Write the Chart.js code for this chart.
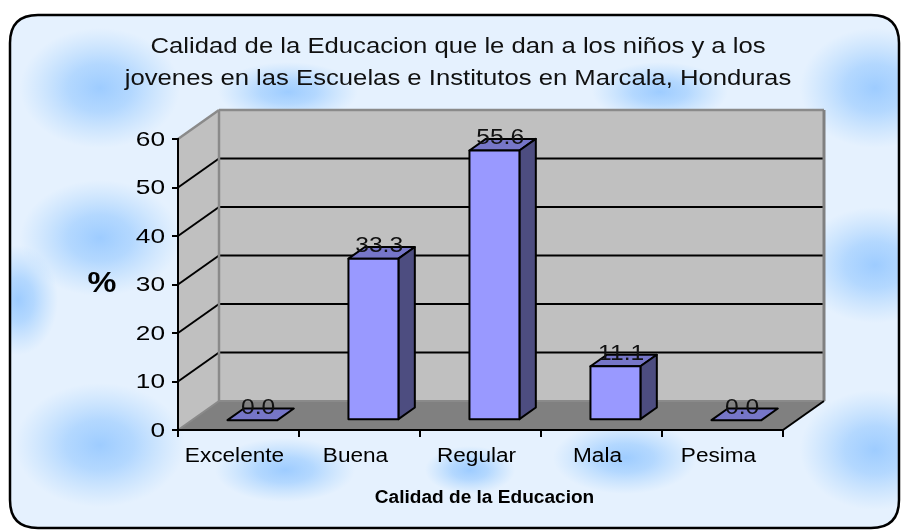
<!DOCTYPE html>
<html>
<head>
<meta charset="utf-8">
<script src="https://cdn.jsdelivr.net/npm/chart.js@4.4.1/dist/chart.umd.min.js"></script>
<style>
  html, body { margin: 0; padding: 0; background: #ffffff; }
  #wrap { position: relative; width: 902px; height: 532px; }
</style>
</head>
<body>
<div id="wrap"><canvas id="grafico" width="902" height="532"></canvas></div>
<script>
// datos del grafico
const categorias = ["Excelente", "Buena", "Regular", "Mala", "Pesima"];
const porcentajes = [0.0, 33.3, 55.6, 11.1, 0.0];
const ticksY = [0, 10, 20, 30, 40, 50, 60];
const tituloLineas = [
  "Calidad de la Educacion que le dan a los niños y a los",
  "jovenes en las Escuelas e Institutos en Marcala, Honduras"
];
const tituloEjeX = "Calidad de la Educacion";
const tituloEjeY = "%";

const FUENTE = "'Liberation Sans', Arial, sans-serif";

// profundidad del efecto 3D (pared del fondo)
const DX = 41, DY = -29;
const F1 = 0.34, F2 = 0.74; // la barra ocupa esta franja de la profundidad

// manchas del fondo azul
const manchas = [
  [100, 88, 80, 60], [100, 238, 80, 58], [100, 445, 85, 62],
  [288, 92, 70, 30], [285, 470, 70, 32], [660, 92, 68, 30],
  [625, 458, 72, 36], [875, 88, 75, 60], [875, 265, 75, 58],
  [875, 450, 75, 60], [18, 300, 40, 55], [470, 470, 45, 24]
];

function rutaRedondeada(ctx, x, y, w, h, r) {
  ctx.beginPath();
  ctx.moveTo(x + r, y);
  ctx.lineTo(x + w - r, y);
  ctx.quadraticCurveTo(x + w, y, x + w, y + r);
  ctx.lineTo(x + w, y + h - r);
  ctx.quadraticCurveTo(x + w, y + h, x + w - r, y + h);
  ctx.lineTo(x + r, y + h);
  ctx.quadraticCurveTo(x, y + h, x, y + h - r);
  ctx.lineTo(x, y + r);
  ctx.quadraticCurveTo(x, y, x + r, y);
  ctx.closePath();
}

function poligono(ctx, pts, relleno, trazo, ancho) {
  ctx.beginPath();
  ctx.moveTo(pts[0][0], pts[0][1]);
  for (let i = 1; i < pts.length; i++) ctx.lineTo(pts[i][0], pts[i][1]);
  ctx.closePath();
  if (relleno) { ctx.fillStyle = relleno; ctx.fill(); }
  if (trazo) { ctx.strokeStyle = trazo; ctx.lineWidth = ancho || 1; ctx.stroke(); }
}

function linea(ctx, x1, y1, x2, y2, color, ancho) {
  ctx.beginPath();
  ctx.moveTo(x1, y1);
  ctx.lineTo(x2, y2);
  ctx.strokeStyle = color;
  ctx.lineWidth = ancho;
  ctx.stroke();
}

// el texto del original esta estirado a lo ancho
function texto(ctx, str, x, y, fuente, sx, alinear, color) {
  ctx.save();
  ctx.translate(x, y);
  ctx.scale(sx, 1);
  ctx.font = fuente;
  ctx.fillStyle = color || "#000";
  ctx.textAlign = alinear || "center";
  ctx.textBaseline = "middle";
  ctx.fillText(str, 0, 0);
  ctx.restore();
}

// fondo, paredes, piso y textos
const paredes3D = {
  id: "paredes3D",
  beforeDraw(chart) {
    const ctx = chart.ctx;
    const { left, right, top, bottom } = chart.chartArea;
    const y = chart.scales.y;

    // marco redondeado con fondo celeste
    ctx.save();
    rutaRedondeada(ctx, 10, 15, 889, 513, 28);
    ctx.save();
    ctx.clip();
    ctx.fillStyle = "#e5f1fe";
    ctx.fillRect(0, 0, chart.width, chart.height);
    manchas.forEach(([cx, cy, rx, ry]) => {
      ctx.save();
      ctx.translate(cx, cy);
      ctx.scale(rx / ry, 1);
      const g = ctx.createRadialGradient(0, 0, 0, 0, 0, ry);
      g.addColorStop(0, "rgba(150,200,255,0.9)");
      g.addColorStop(0.4, "rgba(158,205,255,0.7)");
      g.addColorStop(1, "rgba(170,212,255,0)");
      ctx.fillStyle = g;
      ctx.fillRect(-ry, -ry, ry * 2, ry * 2);
      ctx.restore();
    });
    ctx.restore();
    rutaRedondeada(ctx, 10, 15, 889, 513, 28);
    ctx.strokeStyle = "#000";
    ctx.lineWidth = 2.5;
    ctx.stroke();

    // titulo
    texto(ctx, tituloLineas[0], 458, 47, "22px " + FUENTE, 1.167, "center", "#111");
    texto(ctx, tituloLineas[1], 458, 79, "22px " + FUENTE, 1.167, "center", "#111");

    // pared lateral, pared del fondo y piso
    poligono(ctx, [[left, top], [left + DX, top + DY], [left + DX, bottom + DY], [left, bottom]], "#c0c0c0");
    poligono(ctx, [[left + DX, top + DY], [right + DX, top + DY], [right + DX, bottom + DY], [left + DX, bottom + DY]], "#c0c0c0");
    poligono(ctx, [[left, bottom], [left + DX, bottom + DY], [right + DX, bottom + DY], [right, bottom]], "#808080");

    // lineas de division
    ticksY.forEach(v => {
      if (v === ticksY[0] || v === ticksY[ticksY.length - 1]) return;
      const py = y.getPixelForValue(v);
      linea(ctx, left + DX, py + DY, right + DX, py + DY, "#000", 2);
      linea(ctx, left, py, left + DX, py + DY, "#000", 2);
    });

    // bordes grises de las paredes
    linea(ctx, left + DX, top + DY, left + DX, bottom + DY, "#8a8a8a", 2.5);
    linea(ctx, left + DX, top + DY, right + DX, top + DY, "#8a8a8a", 2.5);
    linea(ctx, right + DX, top + DY, right + DX, bottom + DY, "#808080", 3);
    linea(ctx, left + DX, bottom + DY, right + DX, bottom + DY, "#8a8a8a", 2);
    linea(ctx, left, top, left + DX, top + DY, "#8a8a8a", 2.5);
    linea(ctx, left, bottom, left + DX, bottom + DY, "#8a8a8a", 2);
    linea(ctx, right, bottom, right + DX, bottom + DY, "#000", 2);

    // etiquetas del eje Y
    ticksY.forEach(v => {
      texto(ctx, String(v), 165, y.getPixelForValue(v) + 1, "21px " + FUENTE, 1.25, "right");
    });
    texto(ctx, tituloEjeY, 102, 284, "bold 29px " + FUENTE, 1.12, "center");

    // etiquetas del eje X
    const x = chart.scales.x;
    categorias.forEach((c, i) => {
      texto(ctx, c, x.getPixelForValue(i) - 4, 456, "20px " + FUENTE, 1.13, "center");
    });
    texto(ctx, tituloEjeX, (left + right) / 2 + 4, 498, "bold 18px " + FUENTE, 1.06, "center");
    ctx.restore();
  },
  afterDatasetsDraw(chart) {
    const ctx = chart.ctx;
    const meta = chart.getDatasetMeta(0);
    ctx.save();
    ctx.lineJoin = "round";
    meta.data.forEach((bar, i) => {
      const w = bar.width;
      const x0 = bar.x - w / 2, x1 = bar.x + w / 2;
      const yt = bar.y, yb = bar.base;
      const sx1 = DX * F1, sy1 = DY * F1, sx2 = DX * F2, sy2 = DY * F2;
      // cara superior
      poligono(ctx, [[x0 + sx1, yt + sy1], [x1 + sx1, yt + sy1], [x1 + sx2, yt + sy2], [x0 + sx2, yt + sy2]], "#7676c8", "#000", 2);
      if (yb - yt > 0.5) {
        // cara lateral y frontal
        poligono(ctx, [[x1 + sx1, yt + sy1], [x1 + sx2, yt + sy2], [x1 + sx2, yb + sy2], [x1 + sx1, yb + sy1]], "#4d4d80", "#000", 2);
        poligono(ctx, [[x0 + sx1, yt + sy1], [x1 + sx1, yt + sy1], [x1 + sx1, yb + sy1], [x0 + sx1, yb + sy1]], "#9999ff", "#000", 2);
      }
      // etiqueta del valor
      texto(ctx, porcentajes[i].toFixed(1), bar.x + DX * 0.48, yt + sy2 - 1, "22px " + FUENTE, 1.12, "center", "#111");
    });
    ctx.restore();
  }
};

new Chart(document.getElementById("grafico"), {
  type: "bar",
  data: {
    labels: categorias,
    datasets: [{
      label: "%",
      data: porcentajes,
      backgroundColor: "rgba(0,0,0,0)",
      borderWidth: 0,
      categoryPercentage: 1,
      barPercentage: 0.413
    }]
  },
  options: {
    responsive: false,
    animation: false,
    layout: { padding: { left: 118, right: 119, top: 139, bottom: 92 } },
    plugins: {
      legend: { display: false },
      tooltip: { enabled: false },
      title: { display: false }
    },
    scales: {
      x: {
        afterFit: (scale) => { scale.height = 10; },
        grid: {
          offset: true,
          drawOnChartArea: false,
          drawTicks: true,
          tickLength: 7,
          color: "#000",
          lineWidth: 2
        },
        border: { color: "#000", width: 2 },
        ticks: { display: false }
      },
      y: {
        min: 0,
        max: 60,
        afterFit: (scale) => { scale.width = 60; },
        afterBuildTicks: (scale) => { scale.ticks = ticksY.map(v => ({ value: v })); },
        grid: {
          drawOnChartArea: false,
          drawTicks: true,
          tickLength: 6,
          color: "#000",
          lineWidth: 2
        },
        border: { color: "#000", width: 2 },
        ticks: { display: false }
      }
    }
  },
  plugins: [paredes3D]
});
</script>
</body>
</html>
